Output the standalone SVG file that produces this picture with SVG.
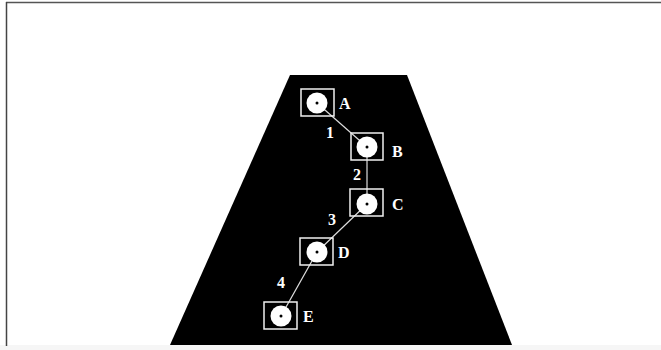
<svg xmlns="http://www.w3.org/2000/svg" width="661" height="350" viewBox="0 0 661 350">
<style>
.box{fill:none;stroke:#f0f0f0;stroke-width:1.5}
.disc{fill:#ffffff}
.dot{fill:#000000}
.lbl{font-family:"Liberation Serif","Times New Roman",serif;font-weight:bold;font-size:16px;fill:#ffffff}
.edge{stroke:#dddddd;stroke-width:1.2;fill:none}
</style>
<rect x="0" y="0" width="661" height="350" fill="#ffffff"/>
<rect x="0" y="345" width="661" height="5" fill="#f6f6f6"/>
<line x1="6" y1="2.5" x2="661" y2="2.5" stroke="#555555" stroke-width="1.5"/>
<line x1="6.5" y1="2" x2="6.5" y2="346" stroke="#444444" stroke-width="1.5"/>
<polygon id="road" points="290,75 407,75 512,345 170,345" fill="#000000"/>
<g id="connectors">
<line class="edge" x1="317" y1="103" x2="367" y2="147"/>
<line class="edge" x1="367" y1="147" x2="367" y2="204"/>
<line class="edge" x1="367" y1="204" x2="317" y2="252"/>
<line class="edge" x1="317" y1="252" x2="281" y2="316"/>
<text class="lbl" x="330" y="138" text-anchor="middle">1</text>
<text class="lbl" x="357" y="180" text-anchor="middle">2</text>
<text class="lbl" x="332" y="225" text-anchor="middle">3</text>
<text class="lbl" x="281" y="288" text-anchor="middle">4</text>
</g>
<g id="A">
<rect class="box" x="301" y="89" width="33" height="27"/>
<circle class="disc" cx="317" cy="103" r="10.5"/>
<circle class="dot" cx="317" cy="103" r="1.5"/>
<text class="lbl" x="339" y="109">A</text>
</g>
<g id="B">
<rect class="box" x="351" y="133" width="32" height="27"/>
<circle class="disc" cx="367" cy="147" r="10.5"/>
<circle class="dot" cx="367" cy="147" r="1.5"/>
<text class="lbl" x="392" y="157">B</text>
</g>
<g id="C">
<rect class="box" x="350" y="189" width="33" height="27"/>
<circle class="disc" cx="367" cy="204" r="10.5"/>
<circle class="dot" cx="367" cy="204" r="1.5"/>
<text class="lbl" x="392" y="210">C</text>
</g>
<g id="D">
<rect class="box" x="300" y="238" width="33" height="27"/>
<circle class="disc" cx="317" cy="252" r="10.5"/>
<circle class="dot" cx="317" cy="252" r="1.5"/>
<text class="lbl" x="338" y="258">D</text>
</g>
<g id="E">
<rect class="box" x="264" y="302" width="33" height="27"/>
<circle class="disc" cx="281" cy="316" r="10.5"/>
<circle class="dot" cx="281" cy="316" r="1.5"/>
<text class="lbl" x="303" y="322">E</text>
</g>
</svg>
